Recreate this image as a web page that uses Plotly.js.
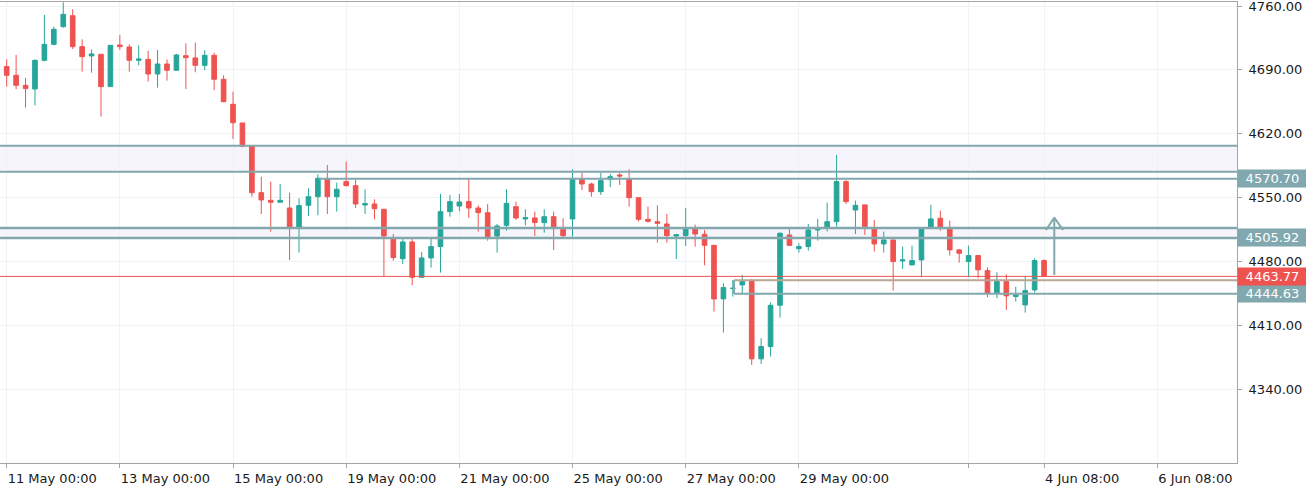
<!DOCTYPE html>
<html>
<head>
<meta charset="utf-8">
<script src="https://cdn.plot.ly/plotly-3.0.1.min.js"></script>
<style>
  html, body { margin: 0; padding: 0; background: #ffffff; }
  #chart { width: 1306px; height: 493px; }
</style>
</head>
<body>
<div id="chart"></div>
<script>
// ---- data ----
const tradingDays = [
  '2020-05-11','2020-05-12','2020-05-13','2020-05-14','2020-05-15',
  '2020-05-18','2020-05-19','2020-05-20','2020-05-21','2020-05-22',
  '2020-05-25','2020-05-26','2020-05-27','2020-05-28','2020-05-29',
  '2020-06-01','2020-06-02','2020-06-03','2020-06-04'
];
const sessionHours = ['00:00','04:00','08:00','12:00','16:00','20:00'];
const weekendDays = ['2020-05-16','2020-05-17','2020-05-23','2020-05-24','2020-05-30','2020-05-31'];

const openP = [
  4693.6,4684.1,4673.1,4669.1,4700.5,4718.0,4737.4,4749.4,4715.5,4705.3,
  4707.1,4671.7,4717.3,4715.1,4700.5,4701.6,4685.5,4696.5,4689.6,4705.6,
  4703.1,4695.0,4706.0,4679.7,4652.3,4631.9,4606.6,4555.5,4547.1,4545.0,
  4538.7,4517.5,4541.6,4551.1,4570.5,4551.1,4567.6,4563.2,4542.0,4543.1,
  4537.3,4505.1,4483.2,4501.5,4462.8,4484.0,4496.4,4534.7,4540.9,4545.7,
  4538.7,4533.6,4508.0,4519.7,4540.2,4526.7,4527.8,4522.7,4529.2,4515.4,
  4526.7,4570.5,4565.0,4556.6,4570.1,4574.9,4570.5,4550.0,4526.3,4523.7,
  4521.2,4508.0,4508.4,4516.4,4509.9,4497.8,4439.1,4450.4,4454.4,4458.8,
  4373.4,4386.9,4432.1,4509.1,4494.2,4496.4,4514.6,4516.4,4523.7,4567.6,
  4536.5,4542.1,4515.8,4499.3,4503.7,4480.7,4476.3,4481.8,4517.2,4527.5,
  4515.8,4492.8,4480.0,4486.6,4470.1,4445.3,4458.1,4441.7,4432.5,4448.9,
  4481.1
];
const highP = [
  4701.6,4706.4,4681.2,4701.6,4750.2,4737.4,4764.0,4756.4,4723.5,4712.6,
  4707.1,4716.9,4728.3,4718.0,4716.9,4711.1,4711.8,4701.6,4707.5,4719.1,
  4719.9,4711.5,4708.9,4684.1,4666.2,4631.9,4607.5,4573.0,4567.6,4565.0,
  4555.5,4549.3,4560.3,4575.6,4585.8,4566.5,4589.5,4570.1,4559.2,4548.2,
  4537.3,4510.2,4505.1,4505.1,4490.5,4505.1,4554.1,4553.0,4554.1,4570.5,
  4541.6,4543.1,4521.2,4559.2,4545.7,4537.3,4534.7,4537.3,4534.7,4527.4,
  4581.1,4577.4,4566.5,4577.4,4576.0,4577.4,4581.1,4550.0,4540.2,4541.6,
  4532.1,4509.5,4538.7,4520.5,4514.6,4497.8,4456.2,4459.9,4465.3,4461.0,
  4396.0,4435.1,4512.0,4516.4,4500.0,4521.2,4526.7,4544.6,4596.8,4569.4,
  4546.8,4542.1,4525.6,4512.8,4503.7,4496.4,4497.5,4515.8,4542.1,4535.9,
  4524.9,4493.9,4497.5,4486.6,4473.8,4468.3,4466.1,4452.6,4464.3,4483.6,
  4482.5
];
const lowP = [
  4671.7,4668.8,4648.7,4651.2,4699.4,4716.9,4736.3,4712.9,4688.1,4687.0,
  4638.8,4671.7,4711.8,4688.1,4695.0,4677.2,4670.6,4678.2,4689.6,4669.1,
  4687.4,4689.6,4667.7,4654.5,4614.4,4605.2,4551.1,4532.1,4512.8,4545.0,
  4481.8,4489.8,4530.0,4530.7,4532.1,4534.7,4562.4,4538.7,4532.1,4526.3,
  4464.2,4481.0,4477.4,4454.0,4462.0,4473.4,4467.9,4529.2,4535.1,4527.8,
  4512.8,4502.9,4489.8,4513.9,4525.6,4519.7,4508.0,4511.7,4492.7,4505.0,
  4507.3,4558.4,4551.1,4553.0,4561.4,4563.9,4540.2,4524.1,4522.7,4500.7,
  4500.7,4482.9,4497.1,4496.4,4475.9,4425.2,4402.2,4441.6,4445.3,4366.8,
  4367.9,4375.9,4418.6,4497.0,4489.8,4492.0,4502.9,4513.0,4518.3,4543.1,
  4510.2,4509.2,4490.9,4489.8,4448.2,4472.0,4476.3,4462.8,4517.2,4513.9,
  4486.6,4478.9,4462.8,4461.7,4440.9,4439.8,4427.0,4436.2,4424.1,4446.0,
  4463.77
];
const closeP = [
  4684.1,4673.1,4669.5,4700.5,4718.0,4734.5,4750.9,4715.5,4704.5,4707.5,
  4671.7,4716.9,4715.5,4700.5,4702.0,4685.5,4696.5,4689.6,4706.4,4703.4,
  4695.0,4706.0,4679.7,4655.2,4632.2,4606.6,4555.5,4547.5,4545.0,4547.1,
  4517.5,4541.3,4551.1,4571.2,4551.1,4559.2,4563.2,4543.1,4543.5,4538.0,
  4508.0,4484.3,4501.5,4462.8,4484.0,4496.4,4534.7,4545.7,4545.3,4538.7,
  4533.6,4507.3,4519.0,4543.8,4527.8,4528.1,4522.7,4529.2,4517.5,4508.4,
  4570.5,4565.0,4556.6,4568.7,4573.0,4573.8,4550.0,4526.3,4524.1,4521.9,
  4508.4,4509.5,4516.4,4510.2,4497.8,4439.1,4451.5,4450.8,4458.4,4373.4,
  4386.9,4432.1,4511.0,4497.8,4496.4,4514.6,4516.4,4523.7,4567.6,4545.7,
  4541.6,4518.3,4499.3,4503.7,4480.0,4481.8,4481.1,4515.8,4526.7,4517.6,
  4492.8,4489.1,4486.6,4470.9,4445.3,4458.1,4442.4,4443.5,4448.2,4481.1,
  4463.77
];

// axis ticks
const xTickVals = ['2020-05-11 00:00','2020-05-13 00:00','2020-05-15 00:00','2020-05-19 00:00',
  '2020-05-21 00:00','2020-05-25 00:00','2020-05-27 00:00','2020-05-29 00:00',
  '2020-06-03 00:00','2020-06-04 08:00','2020-06-06 08:00'];
const xTickText = ['11 May 00:00','13 May 00:00','15 May 00:00','19 May 00:00',
  '21 May 00:00','25 May 00:00','27 May 00:00','29 May 00:00',
  '','4 Jun 08:00','6 Jun 08:00'];
const yTickVals = [4340, 4410, 4480, 4550, 4620, 4690, 4760];

// drawn levels
const topZone = [4578.5, 4607.0];
const midZone = [4505.92, 4516.8];
const resistLevel = 4570.70;
const lastPrice = 4463.77;
const boxTop = 4459.5;
const boxBottom = 4444.63;
const boxStart = '2020-05-27 20:30';
const resistStart = '2020-05-18 12:30';
const arrowTime = '2020-06-04 12:20';
const arrowLeft = '2020-06-04 08:50';
const arrowRight = '2020-06-04 16:05';
const arrowTail = 4465.3, arrowTip = 4528.1, arrowWing = 4514.6;

// ---- build ----
const times = [];
tradingDays.forEach(d => sessionHours.forEach(h => times.push(d + ' ' + h)));
const x = times.slice(0, openP.length);

const UP = '#26a69a', DOWN = '#ef5350';
const LVL = '#82a7ad', LVL_BG = '#80a8ae', ZONE = '#f5f5fb', TAN = '#b9a695';
const FONT = 'DejaVu Sans, Verdana, sans-serif';

const trace = {
  type: 'candlestick', x: x, open: openP, high: highP, low: lowP, close: closeP,
  increasing: { line: { color: UP, width: 1 }, fillcolor: UP },
  decreasing: { line: { color: DOWN, width: 1 }, fillcolor: DOWN },
  whiskerwidth: 0, showlegend: false, hoverinfo: 'skip'
};

function hline(y, color, width, x0, layer) {
  return x0 === undefined
    ? { type: 'line', xref: 'paper', x0: 0, x1: 1, yref: 'y', y0: y, y1: y, line: { color, width }, layer: layer || 'above' }
    : { type: 'line', xref: 'x', x0: x0, x1: '2020-06-08 00:00', yref: 'y', y0: y, y1: y, line: { color, width }, layer: layer || 'above' };
}

const shapes = [
  { type: 'rect', xref: 'paper', x0: 0, x1: 1, yref: 'y', y0: topZone[0], y1: topZone[1], fillcolor: ZONE, line: { width: 0 }, layer: 'below' },
  { type: 'rect', xref: 'paper', x0: 0, x1: 1, yref: 'y', y0: midZone[0], y1: midZone[1], fillcolor: ZONE, line: { width: 0 }, layer: 'below' },
  hline(topZone[0], LVL, 2), hline(topZone[1], LVL, 2),
  hline(midZone[0], LVL, 2.5), hline(midZone[1], LVL, 2.5),
  hline(resistLevel, LVL, 2, resistStart),
  hline(lastPrice, DOWN, 1),
  hline(boxBottom, LVL, 2, boxStart),
  hline(boxTop, TAN, 2, boxStart),
  { type: 'line', xref: 'x', x0: boxStart, x1: boxStart, yref: 'y', y0: boxBottom, y1: boxTop, line: { color: LVL, width: 2 } },
  // arrow
  { type: 'line', xref: 'x', x0: arrowTime, x1: arrowTime, yref: 'y', y0: arrowTail, y1: arrowTip, line: { color: LVL, width: 2 } },
  { type: 'line', xref: 'x', x0: arrowLeft, x1: arrowTime, yref: 'y', y0: arrowWing, y1: arrowTip, line: { color: LVL, width: 2 } },
  { type: 'line', xref: 'x', x0: arrowRight, x1: arrowTime, yref: 'y', y0: arrowWing, y1: arrowTip, line: { color: LVL, width: 2 } }
];

function priceLabel(v, bg) {
  return {
    xref: 'paper', x: 1, xanchor: 'left', yref: 'y', y: v, yanchor: 'middle',
    text: v.toFixed(2), showarrow: false, bgcolor: bg, borderpad: 1, width: 67, align: 'center',
    font: { family: FONT, size: 13, color: '#ffffff' }
  };
}
const annotations = [
  priceLabel(resistLevel, LVL_BG),
  priceLabel(midZone[0], LVL_BG),
  priceLabel(boxBottom, LVL_BG),
  priceLabel(lastPrice, DOWN)
];

const layout = {
  width: 1306, height: 493,
  margin: { l: 0, r: 69, t: 2, b: 30, pad: 0 },
  paper_bgcolor: '#ffffff', plot_bgcolor: '#ffffff',
  font: { family: FONT, size: 13, color: '#1a1a1a' },
  showlegend: false,
  xaxis: {
    type: 'date',
    range: ['2020-05-10 21:10', '2020-06-07 17:50'],
    rangebreaks: [{ values: weekendDays, dvalue: 86400000 }],
    rangeslider: { visible: false },
    tickmode: 'array', tickvals: xTickVals, ticktext: xTickText,
    ticklabelposition: 'outside right', ticklabeloverflow: 'allow', ticklabelstandoff: 3,
    ticks: 'outside', ticklen: 4, tickcolor: '#a5a5a5',
    showgrid: true, gridcolor: '#f1f2f5', gridwidth: 1,
    showline: true, linecolor: '#a5a5a5', linewidth: 1, mirror: true,
    zeroline: false, fixedrange: true,
    tickfont: { family: FONT, size: 13, color: '#1a1a1a' }
  },
  yaxis: {
    side: 'right',
    range: [4259.3, 4764.4],
    tickmode: 'array', tickvals: yTickVals, tickformat: '.2f',
    ticklabeloverflow: 'allow', ticklabelstandoff: 4,
    ticks: 'outside', ticklen: 4, tickcolor: '#a5a5a5',
    showgrid: true, gridcolor: '#f1f2f5', gridwidth: 1,
    showline: true, linecolor: '#a5a5a5', linewidth: 1,
    zeroline: false, fixedrange: true,
    tickfont: { family: FONT, size: 13, color: '#1a1a1a' }
  },
  shapes: shapes,
  annotations: annotations
};

Plotly.newPlot('chart', [trace], layout, { displayModeBar: false, staticPlot: true });
</script>
</body>
</html>
